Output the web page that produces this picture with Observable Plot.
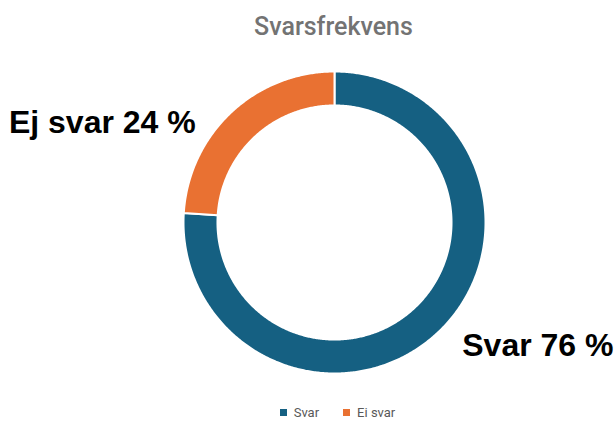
<!DOCTYPE html>
<html>
<head>
<meta charset="utf-8">
<script src="https://cdn.jsdelivr.net/npm/d3@7"></script>
<script src="https://cdn.jsdelivr.net/npm/@observablehq/plot@0.6"></script>
<style>
  html, body { margin: 0; padding: 0; background: #fff; }
  #wrap { width: 615px; height: 421px; position: relative; overflow: hidden; }
  #title { height: 50px; box-sizing: border-box; padding-left: 52px; padding-top: 12px; text-align: center;
           font-family: Roboto, "Noto Sans", sans-serif; font-size: 25px; font-weight: 500; line-height: 30px; color: #737373; }
  #chart svg { display: block; }
  #legend { height: 31px; box-sizing: border-box; padding-left: 60px; padding-top: 13px; display: flex; justify-content: center; align-items: center; gap: 24px;
            font-family: Roboto, "Noto Sans", sans-serif; font-size: 13px; color: #595959; }
  .item { display: flex; align-items: center; gap: 7px; }
  .sw { width: 7px; height: 7px; display: inline-block; }
</style>
</head>
<body>
<div id="wrap">
  <div id="title"></div>
  <div id="chart"></div>
  <div id="legend"></div>
</div>
<script>
const titleText = "Svarsfrekvens";
const categories = ["Svar", "Ei svar"];
const labelNames = ["Svar", "Ej svar"];
const values = [76, 24];
const colors = ["#156082", "#E97132"];

document.getElementById("title").textContent = titleText;

const outerR = 1, innerR = 0.775;
const pie = d3.pie().sort(null).value(d => d.value);
const slices = pie(categories.map((c, i) => ({name: c, label: labelNames[i], value: values[i]})));

// polygon points for each ring segment
const pts = [];
for (const s of slices) {
  const n = Math.max(2, Math.ceil((s.endAngle - s.startAngle) / (Math.PI / 360)));
  for (let k = 0; k <= n; k++) {
    const a = s.startAngle + (s.endAngle - s.startAngle) * k / n;
    pts.push({name: s.data.name, x: outerR * Math.sin(a), y: outerR * Math.cos(a)});
  }
  for (let k = n; k >= 0; k--) {
    const a = s.startAngle + (s.endAngle - s.startAngle) * k / n;
    pts.push({name: s.data.name, x: innerR * Math.sin(a), y: innerR * Math.cos(a)});
  }
}

const labelR = 1.12;
const labels = slices.map(s => {
  const mid = (s.startAngle + s.endAngle) / 2;
  return {name: s.data.name, text: `${s.data.label} ${s.data.value} %`, x: labelR * Math.sin(mid), y: labelR * Math.cos(mid)};
});

const plot = Plot.plot({
  width: 615,
  height: 340,
  margin: 0,
  x: {domain: [-1, 1], range: [183, 485], axis: null},
  y: {domain: [-1, 1], range: [323, 21], axis: null},
  color: {domain: categories, range: colors},
  marks: [
    Plot.line(pts, {x: "x", y: "y", z: "name", fill: "name", stroke: "white", strokeWidth: 2, curve: "linear-closed"}),
    Plot.text(labels.filter(d => d.x < 0), {x: "x", y: "y", text: "text", textAnchor: "end", dx: -23, dy: 24,
      fontSize: 32, fontWeight: "bold", fontFamily: "'Liberation Sans', Arial, sans-serif", fill: "black"}),
    Plot.text(labels.filter(d => d.x >= 0), {x: "x", y: "y", text: "text", textAnchor: "start", dx: 12, dy: 0,
      fontSize: 32, fontWeight: "bold", fontFamily: "'Liberation Sans', Arial, sans-serif", fill: "black"})
  ]
});
document.getElementById("chart").appendChild(plot);

const legend = document.getElementById("legend");
categories.forEach((c, i) => {
  const item = document.createElement("span");
  item.className = "item";
  const sw = document.createElement("span");
  sw.className = "sw";
  sw.style.background = colors[i];
  const t = document.createElement("span");
  t.textContent = c;
  item.appendChild(sw);
  item.appendChild(t);
  legend.appendChild(item);
});
</script>
</body>
</html>
